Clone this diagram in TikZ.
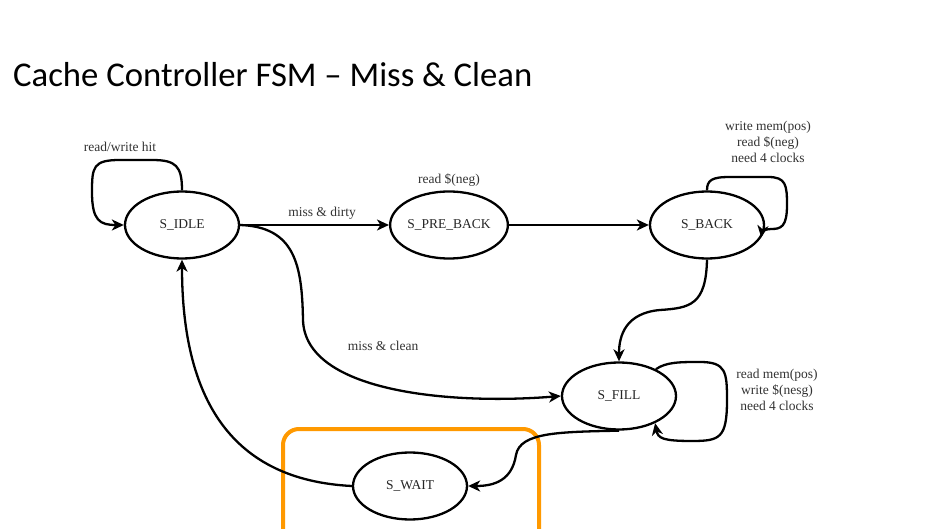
\documentclass[tikz,border=0pt]{standalone}
\usepackage{fontspec}
\setmainfont{Liberation Serif}
\newfontfamily\titlefont{Carlito}
\usetikzlibrary{shapes.geometric,arrows.meta}
\definecolor{boxorange}{RGB}{255,153,0}
\begin{document}
\begin{tikzpicture}[x=1pt,y=-1pt,
  state/.style={ellipse,draw,line width=2.3pt,minimum width=114pt,minimum height=67pt,inner sep=0pt,font=\fontsize{13.5}{16}\selectfont,text=black!85},
  lbl/.style={font=\fontsize{13.5}{16}\selectfont,text=black!80,align=center,inner sep=0pt},
  conn/.style={line width=2.3pt,-{Stealth[length=12pt,width=11pt,inset=3.5pt]}}]
\useasboundingbox (0,0) rectangle (940,529);
\clip (0,0) rectangle (940,529);
\fill[white] (0,0) rectangle (940,529);
\node[anchor=base west,inner sep=0pt,font=\titlefont\fontsize{34.7}{40}\selectfont] (title) at (13,87) {Cache Controller FSM – Miss \& Clean};
\draw[boxorange,line width=4pt,rounded corners=16pt] (283,540) -- (283,429) -- (539,429) -- (539,540);
\node[state] (idle) at (182,225) {S\_IDLE};
\node[state] (pre) at (449,225) {S\_PRE\_BACK};
\node[state] (back) at (707,225) {S\_BACK};
\node[state] (fill) at (619,396) {S\_FILL};
\node[state] (wait) at (410,486) {S\_WAIT};
% labels
\node[lbl] (l1) at (120,147) {read/write hit};
\node[lbl] (l2) at (322,213) {miss \& dirty};
\node[lbl] (l3) at (449,180) {read \$(neg)};
\node[lbl] (l4) at (768,142) {write mem(pos)\\read \$(neg)\\need 4 clocks};
\node[lbl] (l5) at (383,346) {miss \& clean};
\node[lbl] (l6) at (777,390) {read mem(pos)\\write \$(nesg)\\need 4 clocks};
% connectors
\draw[conn] (idle.north) .. controls (182,166) and (176,160) .. (152,160) -- (120,160) .. controls (93,160) and (92,167) .. (92,192) .. controls (92,221) and (100,225) .. (idle.west);
\draw[conn] (idle.east) -- (pre.west);
\draw[conn] (pre.east) -- (back.west);
\draw[conn] (back.north) .. controls (707,180) and (712,177) .. (730,177) -- (768,177) .. controls (786,177) and (787,185) .. (787,205) .. controls (787,227) and (781,229) .. (771,229) .. controls (765,229) and (762,232) .. (back.-13);
\draw[conn] (back.south) .. controls (706,305) and (690,308) .. (660,310) .. controls (626,313) and (619,335) .. (fill.north);
\draw[conn] (idle.east) .. controls (295,227) and (302,265) .. (303,320) .. controls (305,392) and (450,405) .. (fill.west);
\draw[conn] (fill.36) .. controls (666,362) and (680,362) .. (700,362) .. controls (726,362) and (727,372) .. (727,400) .. controls (727,438) and (720,441) .. (692,441) .. controls (662,441) and (658,438) .. (fill.-37);
\draw[conn] (fill.south) .. controls (560,432) and (520,432) .. (516,455) .. controls (512,480) and (495,486) .. (wait.east);
\draw[conn] (wait.west) .. controls (232,480) and (182,400) .. (idle.south);
\end{tikzpicture}
\end{document}
